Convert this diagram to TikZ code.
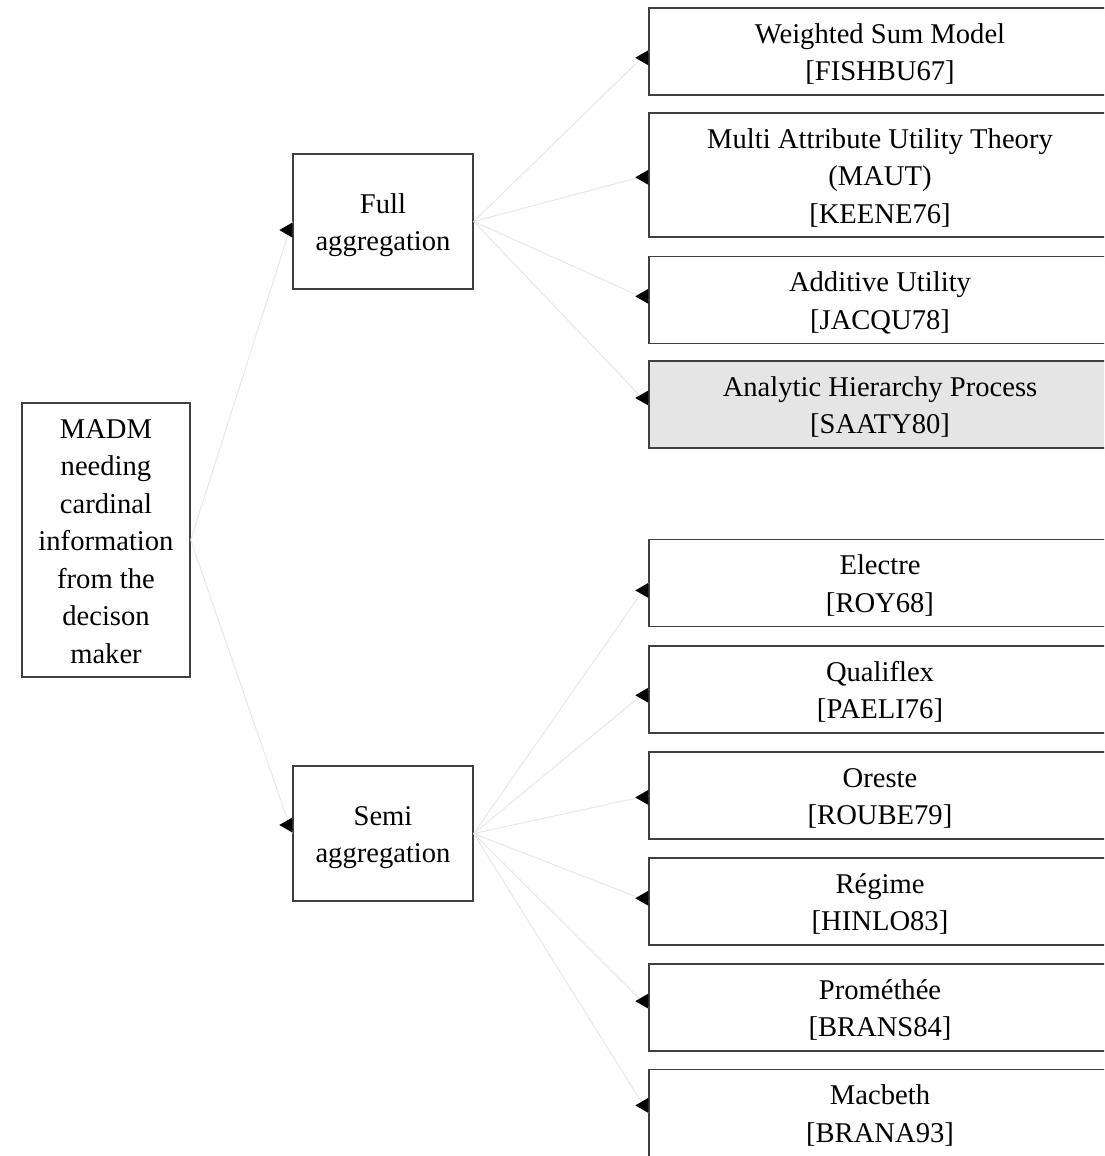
\documentclass[tikz,border=0pt]{standalone}
\usepackage{fontspec}
\setmainfont{Liberation Serif}
\usetikzlibrary{calc}

\tikzset{
  box/.style={draw=black!75, line width=0.7pt, inner sep=0pt,
              font=\fontsize{14.3}{18.75}\selectfont},
  method/.style={box, minimum width=231pt, minimum height=43.5pt},
  group/.style={box, minimum width=90pt, minimum height=67.5pt},
  link/.style={draw=black!9, line width=0.5pt},
  tipfill/.style={fill=black}
}

% centred stack of lines, set a little below the middle of its box
\newcommand\lbl[1]{\raisebox{-1.5pt}[\height][\depth]{%
  \begin{tabular}{@{}c@{}}#1\end{tabular}}}
% reference tag on its own line
\newcommand\reftag[1]{\\{}{[}#1{]}}

% connector from the east side of #1 to the west side of #2,
% closed by a small left-pointing triangle sitting on the edge of #2
\newcommand\linkto[2]{%
  \draw[link] (#1.east) -- (#2.west);
  \fill[tipfill] let \p1=($(#2.west)!4.5pt!(#1.east)$), \p2=(#2.west) in
    (\x2,\y1+3.75pt) -- (\x2-6.5pt,\y1) -- (\x2,\y1-3.75pt) -- cycle;
}

\begin{document}
\begin{tikzpicture}[x=0.5pt,y=-0.5pt]
\useasboundingbox (0,0) rectangle (1104,1156);
\fill[white] (0,0) rectangle (1104,1156);
\clip (0,0) rectangle (1104,1156);

% root
\node[box, minimum width=84pt, minimum height=137pt] (madm) at (106,540)
  {\lbl{MADM\\needing\\cardinal\\information\\from the\\decison\\maker}};

% aggregation families
\node[group] (full) at (383,221.5) {\lbl{Full\\aggregation}};
\node[group] (semi) at (383,833.5) {\lbl{Semi\\aggregation}};

% full aggregation methods
\node[method] (wsm)  at (880,51.5)  {\lbl{Weighted Sum Model\reftag{FISHBU67}}};
\node[method, minimum height=62pt] (maut) at (880,175)
  {\lbl{Multi Attribute Utility Theory\\(MAUT)\reftag{KEENE76}}};
\node[method] (addu) at (880,300)   {\lbl{Additive Utility\reftag{JACQU78}}};
\node[method, fill=black!10] (ahp) at (880,404.5)
  {\lbl{Analytic Hierarchy Process\reftag{SAATY80}}};

% semi aggregation methods
\node[method] (electre) at (880,583)    {\lbl{Electre\reftag{ROY68}}};
\node[method] (quali)   at (880,689.5)  {\lbl{Qualiflex\reftag{PAELI76}}};
\node[method] (oreste)  at (880,795.5)  {\lbl{Oreste\reftag{ROUBE79}}};
\node[method] (regime)  at (880,901.5)  {\lbl{Régime\reftag{HINLO83}}};
\node[method] (prom)    at (880,1007.5) {\lbl{Prométhée\reftag{BRANS84}}};
\node[method] (macb)    at (880,1113)   {\lbl{Macbeth\reftag{BRANA93}}};

% connectors
\linkto{madm}{full}
\linkto{madm}{semi}
\linkto{full}{wsm}
\linkto{full}{maut}
\linkto{full}{addu}
\linkto{full}{ahp}
\linkto{semi}{electre}
\linkto{semi}{quali}
\linkto{semi}{oreste}
\linkto{semi}{regime}
\linkto{semi}{prom}
\linkto{semi}{macb}
\end{tikzpicture}
\end{document}
